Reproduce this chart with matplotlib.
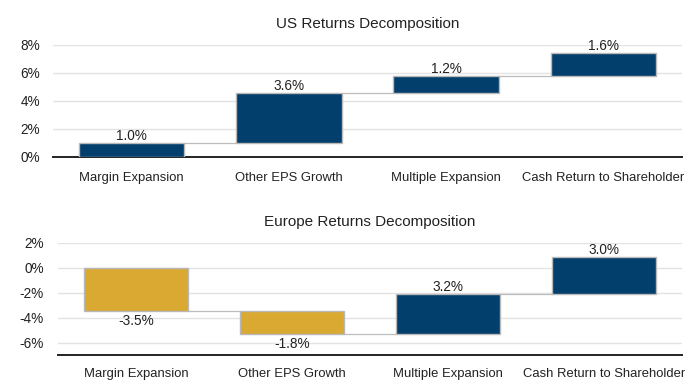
import matplotlib
matplotlib.use("Agg")
import matplotlib.pyplot as plt
from matplotlib.ticker import FuncFormatter

plt.rcParams['font.family'] = ['Liberation Sans', 'DejaVu Sans']

categories = ["Margin Expansion", "Other EPS Growth", "Multiple Expansion", "Cash Return to Shareholder"]
us_values = [1.0, 3.6, 1.2, 1.6]
eu_values = [-3.5, -1.8, 3.2, 3.0]
us_yticks = [0, 2, 4, 6, 8]
eu_yticks = [-6, -4, -2, 0, 2]

NAVY = "#033f6c"
GOLD = "#daa932"
EDGE = "#b8b8b8"
GRID = "#e3e3e3"

fig = plt.figure(figsize=(7.0, 3.88), dpi=100)
ax1 = fig.add_axes([53/700, 1-157/388, 629/700, 112/388])
ax2 = fig.add_axes([58/700, 1-355/388, 624/700, 112/388])


def waterfall(ax, vals, ylim, yticks, title, xpad, ypad):
    x = list(range(len(vals)))
    bottoms = []
    c = 0.0
    for v in vals:
        bottoms.append(c)
        c += v
    colors = [NAVY if v >= 0 else GOLD for v in vals]
    w = 0.67
    ax.bar(x, vals, bottom=bottoms, width=w, color=colors, edgecolor=EDGE, linewidth=1, zorder=3)
    # connectors
    for i in range(len(vals) - 1):
        lvl = bottoms[i] + vals[i]
        ax.plot([x[i] + w/2, x[i+1] - w/2], [lvl, lvl], color="#bdbdbd", lw=0.9, zorder=2)
    for i, v in enumerate(vals):
        top = bottoms[i] + v
        if v >= 0:
            ax.annotate(f"{v:.1f}%", (x[i], top), xytext=(0, 0), textcoords="offset points",
                        ha="center", va="bottom", fontsize=9.8, color="#222222", zorder=4)
        else:
            ax.annotate(f"{v:.1f}%", (x[i], top), xytext=(0, -2), textcoords="offset points",
                        ha="center", va="top", fontsize=9.8, color="#222222", zorder=4)
    ax.set_xlim(-0.5, len(vals) - 0.5)
    ax.set_ylim(*ylim)
    ax.set_yticks(yticks)
    ax.yaxis.set_major_formatter(FuncFormatter(lambda v, p: f"{v:.0f}%"))
    ax.set_xticks(x)
    ax.set_xticklabels(categories)
    ax.grid(axis="y", color=GRID, lw=1, zorder=0)
    ax.set_axisbelow(True)
    for s in ["top", "right", "left"]:
        ax.spines[s].set_visible(False)
    ax.spines["bottom"].set_color("#222222")
    ax.spines["bottom"].set_linewidth(1.4)
    ax.tick_params(axis="both", length=0, labelsize=9.4, colors="#222222")
    ax.tick_params(axis="y", labelsize=9.8)
    ax.tick_params(axis="x", pad=xpad)
    ax.tick_params(axis="y", pad=ypad)
    ax.set_title(title, fontsize=11, color="#222222", pad=12)


waterfall(ax1, us_values, (0, 8), us_yticks, "US Returns Decomposition", 11, 9.4)
waterfall(ax2, eu_values, (-7, 2), eu_yticks, "Europe Returns Decomposition", 9.5, 10)

fig.savefig("out.png", dpi=100, facecolor="white")
